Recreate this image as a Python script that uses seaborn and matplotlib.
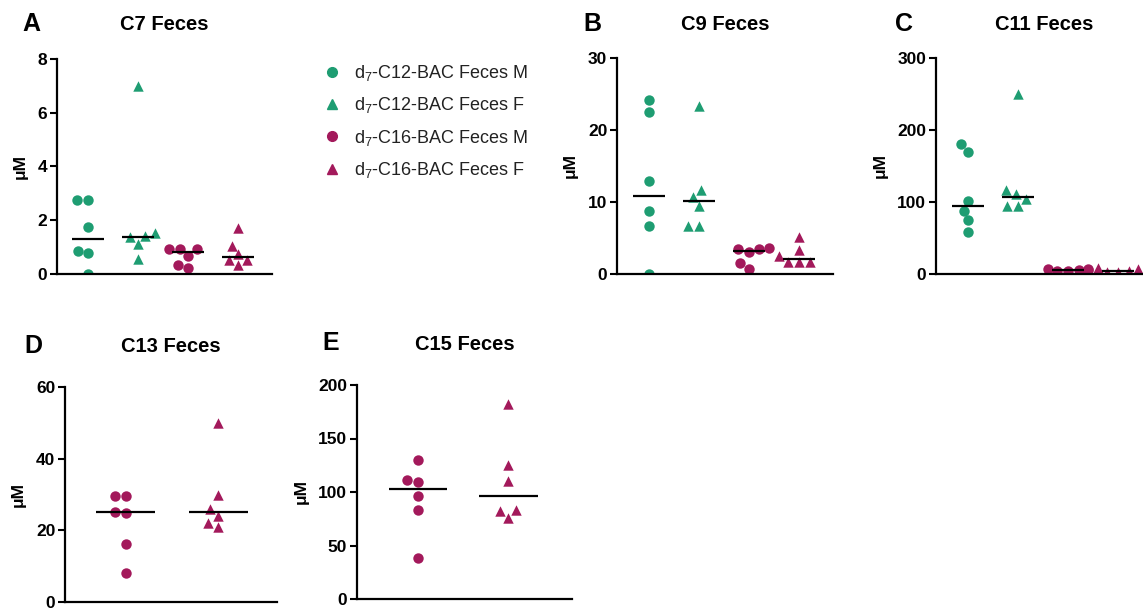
import pandas as pd
import numpy as np
import seaborn as sns
import matplotlib.pyplot as plt
from matplotlib.lines import Line2D

W, H = 1143, 608

# groups / styling
groups = ['C12 M', 'C12 F', 'C16 M', 'C16 F']
legend_labels = [r'$\mathregular{d_7}$-C12-BAC Feces M',
                 r'$\mathregular{d_7}$-C12-BAC Feces F',
                 r'$\mathregular{d_7}$-C16-BAC Feces M',
                 r'$\mathregular{d_7}$-C16-BAC Feces F']
green = '#1e9d72'
magenta = '#a3195b'
colors = {'C12 M': green, 'C12 F': green, 'C16 M': magenta, 'C16 F': magenta}
markers = {'C12 M': 'o', 'C12 F': '^', 'C16 M': 'o', 'C16 F': '^'}

# values (uM)
c7_c12_m = [0.0, 0.78, 0.85, 1.75, 2.75, 2.75]
c7_c12_f = [0.56, 1.11, 1.37, 1.42, 1.52, 7.0]
c7_c16_m = [0.22, 0.35, 0.68, 0.93, 0.93, 0.93]
c7_c16_f = [0.32, 0.53, 0.53, 0.75, 1.06, 1.70]

c9_c12_m = [0.0, 6.6, 8.7, 12.9, 22.5, 24.1]
c9_c12_f = [6.7, 6.7, 9.5, 10.7, 11.6, 23.3]
c9_c16_m = [0.7, 1.5, 3.05, 3.45, 3.5, 3.6]
c9_c16_f = [1.67, 1.67, 1.67, 2.45, 3.3, 5.1]

c11_c12_m = [59, 74.5, 88, 102, 169, 181]
c11_c12_f = [94, 94, 104, 111, 117, 250]
c11_c16_m = [3.5, 4.5, 5.5, 6.0, 6.5, 7.5]
c11_c16_f = [2.5, 3.0, 4.0, 5.0, 6.5, 9.0]

c13_c16_m = [8.2, 16.1, 24.9, 25.2, 29.6, 29.6]
c13_c16_f = [20.8, 22.1, 24.0, 26.0, 29.9, 49.9]

c15_c16_m = [38.3, 83.4, 96.4, 109.8, 111.4, 130]
c15_c16_f = [76, 81.8, 83.4, 110, 125, 182]

panels = [
    dict(letter='A', title='C7 Feces', groups=groups,
         values=[c7_c12_m, c7_c12_f, c7_c16_m, c7_c16_f],
         yticks=[0, 2, 4, 6, 8], box=(57, 59, 272, 274),
         letter_xy=(22, 24), xlim=(-0.63, 3.68)),
    dict(letter='B', title='C9 Feces', groups=groups,
         values=[c9_c12_m, c9_c12_f, c9_c16_m, c9_c16_f],
         yticks=[0, 10, 20, 30], box=(617, 58, 833, 274),
         letter_xy=(583, 24), xlim=(-0.63, 3.68)),
    dict(letter='C', title='C11 Feces', groups=groups,
         values=[c11_c12_m, c11_c12_f, c11_c16_m, c11_c16_f],
         yticks=[0, 100, 200, 300], box=(936, 58, 1152, 274),
         letter_xy=(895, 24), xlim=(-0.63, 3.68)),
    dict(letter='D', title='C13 Feces', groups=['C16 M', 'C16 F'],
         values=[c13_c16_m, c13_c16_f],
         yticks=[0, 20, 40, 60], box=(65, 387, 277, 602),
         letter_xy=(24, 346), xlim=(-0.66, 1.64)),
    dict(letter='E', title='C15 Feces', groups=['C16 M', 'C16 F'],
         values=[c15_c16_m, c15_c16_f],
         yticks=[0, 50, 100, 150, 200], box=(357, 385, 572, 599),
         letter_xy=(322, 343), xlim=(-0.67, 1.70)),
]

sns.set_theme(style='ticks')
plt.rcParams['font.family'] = ['Liberation Sans', 'DejaVu Sans']
plt.rcParams['mathtext.fontset'] = 'custom'
plt.rcParams['mathtext.rm'] = 'Liberation Sans'
plt.rcParams['text.color'] = 'black'
plt.rcParams['axes.labelcolor'] = 'black'
plt.rcParams['ytick.color'] = 'black'

fig = plt.figure(figsize=(W / 100, H / 100), dpi=100)

for p in panels:
    l, t, r, b = p['box']
    ax = fig.add_axes([l / W, 1 - b / H, (r - l) / W, (b - t) / H])
    df = pd.DataFrame([(g, v) for g, vals in zip(p['groups'], p['values']) for v in vals],
                      columns=['group', 'value'])
    for g in p['groups']:
        sns.swarmplot(data=df[df['group'] == g], x='group', y='value', order=p['groups'],
                      color=colors[g], marker=markers[g], size=7.5, ax=ax, zorder=2)
    # median lines
    med = df.groupby('group')['value'].median()
    for i, g in enumerate(p['groups']):
        ax.hlines(med[g], i - 0.32, i + 0.32, color='black', lw=1.6, zorder=3)

    ax.set_xlim(*p['xlim'])
    ax.set_ylim(p['yticks'][0], p['yticks'][-1])
    ax.set_yticks(p['yticks'])
    ax.set_xticks([])
    ax.set_xlabel('')
    ax.set_ylabel('μM', fontsize=12.5, fontweight='bold', labelpad=7)
    for lab in ax.get_yticklabels():
        lab.set_fontweight('bold')
    ax.tick_params(axis='y', width=1.5, length=5, labelsize=12.5, color='black',
                   labelcolor='black', pad=2)
    sns.despine(ax=ax)
    for s in ['left', 'bottom']:
        ax.spines[s].set_linewidth(1.6)
        ax.spines[s].set_color('black')
    ax.patch.set_visible(False)

    fig.text(p['letter_xy'][0] / W, 1 - p['letter_xy'][1] / H, p['letter'],
             fontsize=18, fontweight='bold', ha='left', va='center')
    fig.text((l + r) / 2 / W, 1 - (p['letter_xy'][1] + 1) / H, p['title'],
             fontsize=14.5, fontweight='bold', ha='center', va='center')

# legend
handles = [Line2D([], [], ls='none', marker=markers[g], color=colors[g], markersize=7)
           for g in groups]
leg = fig.legend(handles, legend_labels, loc='upper left', bbox_to_anchor=(323 / W, 1 - 63 / H),
                 frameon=False, fontsize=13, borderpad=0, handlelength=0.95, handletextpad=0.75,
                 labelspacing=0.68, borderaxespad=0)
for txt in leg.get_texts():
    txt.set_color('#222222')

fig.savefig('out.png', dpi=100)
